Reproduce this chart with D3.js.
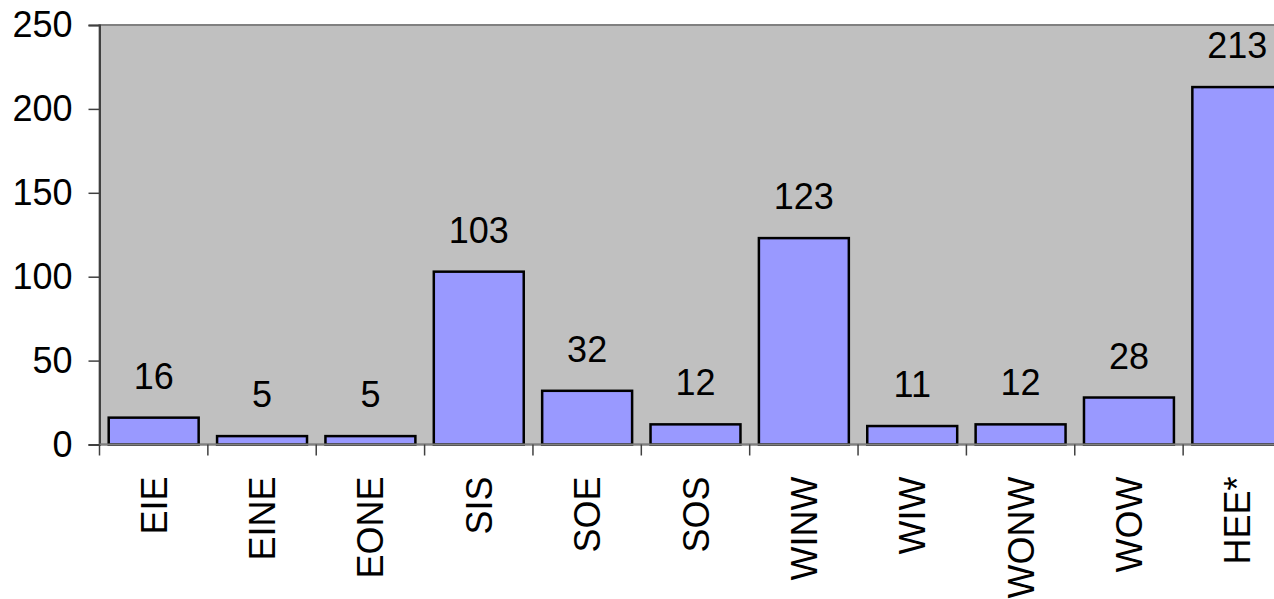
<!DOCTYPE html>
<html><head><meta charset="utf-8">
<script src="https://cdn.jsdelivr.net/npm/d3@7"></script>
<style>
html,body{margin:0;padding:0;background:#fff;overflow:hidden;}
svg{display:block;font-family:"Liberation Sans",Arial,sans-serif;}
</style></head>
<body>
<svg id="c" width="1274" height="599"></svg>
<script>
const categories = ["EIE","EINE","EONE","SIS","SOE","SOS","WINW","WIW","WONW","WOW","HEE*"];
const values = [16,5,5,103,32,12,123,11,12,28,213];
const yTicks = [0,50,100,150,200,250];

const svg = d3.select("#c");
const mLeft = 99.5, mRight = 1291.5, mTop = 25, mBottom = 444.5;
const fs = 36;

const x = d3.scaleBand().domain(categories).range([mLeft, mRight]).padding(0);
const y = d3.scaleLinear().domain([0,250]).range([mBottom, mTop]);

// plot background
svg.append("rect").attr("x",mLeft).attr("y",mTop).attr("width",mRight-mLeft).attr("height",mBottom-mTop)
  .attr("fill","#C0C0C0").attr("stroke","#808080").attr("stroke-width",2);

// bars
const bw = x.bandwidth()*0.83;
svg.selectAll("rect.bar").data(values).enter().append("rect")
  .attr("class","bar")
  .attr("x",(d,i)=>x(categories[i])+(x.bandwidth()-bw)/2)
  .attr("y",d=>y(d))
  .attr("width",bw)
  .attr("height",d=>y(0)-y(d))
  .attr("fill","#9999FF").attr("stroke","#000").attr("stroke-width",2.5);

// value labels
svg.selectAll("text.val").data(values).enter().append("text")
  .attr("class","val")
  .attr("x",(d,i)=>x(categories[i])+x.bandwidth()/2)
  .attr("y",d=>y(d)-29)
  .attr("text-anchor","middle").attr("font-size",fs).attr("fill","#000")
  .text(d=>d);

// y axis
const yAxis = d3.axisLeft(y).tickValues(yTicks).tickSize(11).tickPadding(16);
const gy = svg.append("g").attr("transform",`translate(${mLeft},0)`).call(yAxis);
gy.select(".domain").attr("stroke","#404040").attr("stroke-width",2);
gy.selectAll(".tick line").attr("stroke","#404040").attr("stroke-width",1.5);
gy.selectAll(".tick text").attr("font-size",fs).attr("fill","#000").attr("font-family","Liberation Sans, Arial, sans-serif");

// x axis
const gx = svg.append("g").attr("transform",`translate(0,${mBottom})`);
gx.append("line").attr("x1",mLeft).attr("x2",mRight).attr("y1",0).attr("y2",0)
  .attr("stroke","#808080").attr("stroke-width",2);
const bounds = categories.map(c=>x(c)).concat([mRight]);
gx.selectAll("line.tk").data(bounds).enter().append("line").attr("class","tk")
  .attr("x1",d=>d).attr("x2",d=>d).attr("y1",0).attr("y2",11)
  .attr("stroke","#404040").attr("stroke-width",1.5);
gx.selectAll("text.cat").data(categories).enter().append("text").attr("class","cat")
  .attr("transform",d=>`translate(${x(d)+x.bandwidth()/2+13},32) rotate(-90)`)
  .attr("text-anchor","end").attr("font-size",fs).attr("fill","#000")
  .text(d=>d);
</script>
</body></html>
